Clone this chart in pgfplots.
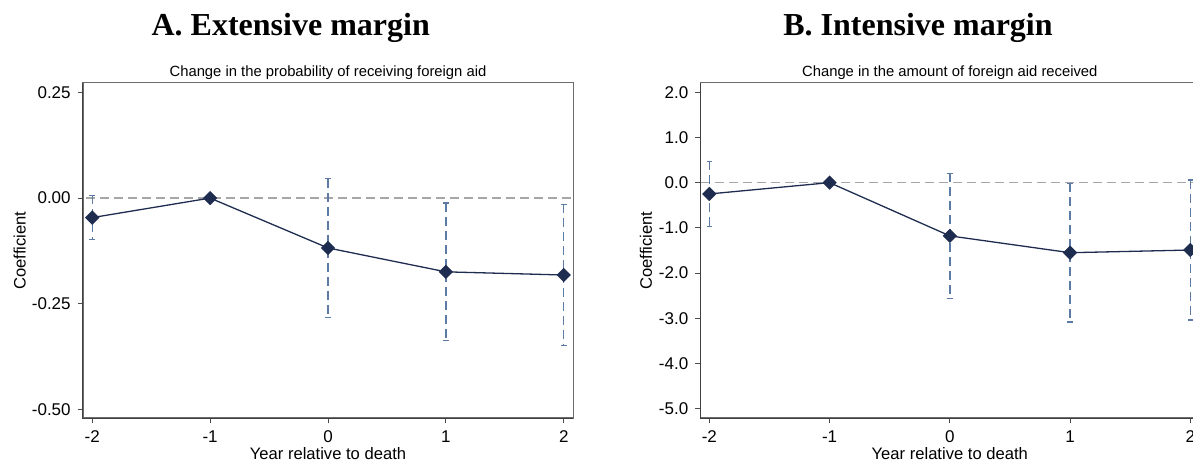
\documentclass[border=0pt]{standalone}
\usepackage{pgfplots}
\pgfplotsset{compat=1.18}
\usepackage{fontspec}
\setmainfont{Liberation Sans}
\newfontfamily\seriffont{Liberation Serif}
\definecolor{mk}{HTML}{1E2C4F}
\definecolor{ci}{HTML}{5B7BA5}
\definecolor{zl}{HTML}{A6A6A6}

\tikzset{sub/.style={font=\fontsize{7.4}{9}\selectfont, anchor=base, yshift=3pt}}
\pgfplotsset{
 stata/.style={
  scale only axis, height=167.8pt,
  clip mode=individual,
  axis line style={draw=gray!85!black, line width=0.8pt},
  xtick={-2,-1,0,1,2}, xticklabels={-2,-1,0,1,2},
  tick align=outside, tick pos=left, major tick length=2.5pt,
  tick style={black!70, line width=0.5pt},
  ticklabel style={font=\fontsize{8.5}{10}\selectfont},
  label style={font=\fontsize{8.3}{10}\selectfont},
  xlabel={Year relative to death},
  ylabel={Coefficient},
  xlabel style={at={(axis description cs:0.5,-0.1213)}, anchor=base},
  /pgf/number format/assume math mode=true,
 },
 zero/.style={zl, dash pattern=on 4.5pt off 2.5pt, line width=0.65pt},
 cib/.style={ci, line width=0.7pt, dash pattern=on 4.5pt off 2.5pt, mark=-, mark options={solid, mark size=1.4pt, line width=0.6pt}},
 est/.style={mk, line width=0.65pt, mark=square*, mark options={rotate=45, mark size=2.2pt, fill=mk, solid}},
}

\begin{document}
\begin{tikzpicture}
\path[use as bounding box, clip] (0,0) rectangle (596.5pt,232pt);
\node[font=\seriffont\bfseries\fontsize{16}{19}\selectfont, anchor=base] at (145.35pt,214pt) {A. Extensive margin};
\node[font=\seriffont\bfseries\fontsize{16}{19}\selectfont, anchor=base] at (459pt,214pt) {B. Intensive margin};

\begin{axis}[stata, at={(41.35pt,22.85pt)}, anchor=south west, width=245.3pt,
  xmin=-2.081, xmax=2.081, ymin=-0.521, ymax=0.273,
  ytick={-0.5,-0.25,0,0.25}, yticklabels={-0.50,-0.25,0.00,0.25},
  ylabel style={at={(axis description cs:-0.1284,0.5)}, anchor=center}]
\addplot[zero] coordinates {(-3,0) (3,0)};
\addplot[cib] coordinates {(-2,0.0063) (-2,-0.0987)};
\addplot[cib] coordinates {(0,0.0458) (0,-0.2818)};
\addplot[cib] coordinates {(1,-0.0118) (1,-0.3370)};
\addplot[cib] coordinates {(2,-0.0150) (2,-0.3490)};
\addplot[est] coordinates {(-2,-0.0462) (-1,0) (0,-0.1180) (1,-0.1745) (2,-0.1820)};
\draw[black!75, line width=0.6pt] (rel axis cs:0,1) -- (rel axis cs:0,0) -- (rel axis cs:1,0);
\node[sub] at (axis description cs:0.5,1) {Change in the probability of receiving foreign aid};
\end{axis}

\begin{axis}[stata, at={(350.15pt,22.85pt)}, anchor=south west, width=249.5pt,
  xmin=-2.075, xmax=2.075, ymin=-5.21, ymax=2.21,
  ytick={-5,-4,-3,-2,-1,0,1,2}, yticklabels={-5.0,-4.0,-3.0,-2.0,-1.0,0.0,1.0,2.0},
  ylabel style={at={(axis description cs:-0.1088,0.5)}, anchor=center}]
\addplot[zero] coordinates {(-3,0) (3,0)};
\addplot[cib] coordinates {(-2,0.471) (-2,-0.964)};
\addplot[cib] coordinates {(0,0.206) (0,-2.553)};
\addplot[cib] coordinates {(1,-0.015) (1,-3.083)};
\addplot[cib] coordinates {(2,0.059) (2,-3.039)};
\addplot[est] coordinates {(-2,-0.250) (-1,0) (0,-1.177) (1,-1.549) (2,-1.490)};
\draw[black!75, line width=0.6pt] (rel axis cs:0,1) -- (rel axis cs:0,0) -- (rel axis cs:1,0);
\node[sub] at (axis description cs:0.5,1) {Change in the amount of foreign aid received};
\end{axis}
\end{tikzpicture}
\end{document}
